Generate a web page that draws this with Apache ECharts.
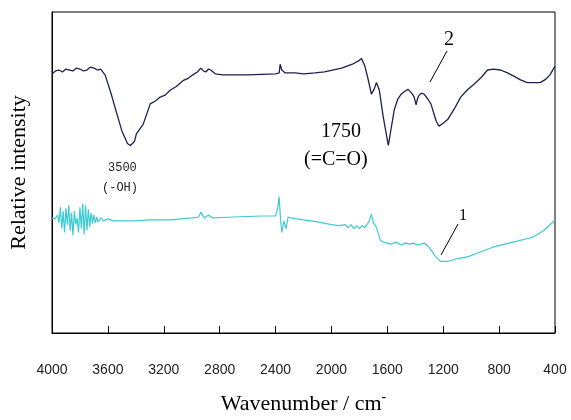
<!DOCTYPE html>
<html>
<head>
<meta charset="utf-8">
<script src="https://cdn.jsdelivr.net/npm/echarts@6/dist/echarts.min.js"></script>
<style>
  html, body { margin: 0; padding: 0; background: #fff; }
  #chart { width: 571px; height: 420px; }
</style>
</head>
<body>
<div id="chart"></div>
<script>
// wavenumber ticks (cm-1)
var xTicks = [4000, 3600, 3200, 2800, 2400, 2000, 1600, 1200, 800, 400];

// curve 2 (dark) : [wavenumber, relative intensity]
var curve2 = [
  [4000, 268], [3975, 271], [3950, 272], [3925, 270], [3900, 273], [3875, 272], [3850, 271],
  [3825, 274], [3800, 273], [3775, 271], [3750, 272], [3725, 275], [3700, 274], [3675, 272],
  [3652, 273], [3620, 267], [3580, 249], [3540, 229], [3500, 209], [3460, 196], [3439, 194],
  [3410, 198], [3396, 206], [3347, 216], [3297, 237], [3260, 240], [3226, 244], [3190, 246],
  [3155, 251], [3110, 255], [3063, 261], [3030, 263], [2992, 267], [2960, 270], [2935, 274],
  [2915, 271], [2899, 270], [2880, 273], [2864, 272], [2830, 268], [2779, 267], [2600, 267],
  [2400, 268], [2374, 269], [2367, 278], [2355, 272], [2331, 269], [2260, 269], [2200, 268],
  [2118, 269], [2050, 270], [1927, 274], [1850, 278], [1800, 282], [1785, 284], [1763, 277],
  [1740, 264], [1714, 247], [1695, 252], [1678, 259], [1657, 251], [1630, 224], [1593, 194],
  [1570, 214], [1550, 231], [1525, 242], [1501, 247], [1475, 250], [1451, 252], [1420, 247],
  [1408, 244], [1394, 236], [1385, 242], [1373, 246], [1355, 248], [1337, 247], [1310, 242],
  [1288, 237], [1250, 219], [1231, 214], [1200, 217], [1167, 221], [1120, 232], [1075, 244],
  [1030, 251], [982, 257], [930, 264], [883, 272], [840, 273], [790, 272], [740, 269],
  [698, 266], [650, 262], [599, 259], [550, 259], [507, 259], [470, 262], [436, 267], [400, 276]
];

// curve 1 (cyan) : [wavenumber, relative intensity]
var curve1 = [
  [4000, 119], [3980, 118], [3960, 122], [3950, 114], [3940, 130], [3930, 108], [3920, 126],
  [3910, 104], [3900, 129], [3890, 112], [3880, 132], [3870, 106], [3860, 124], [3850, 101],
  [3840, 126], [3830, 112], [3820, 119], [3810, 104], [3800, 130], [3790, 108], [3780, 134],
  [3770, 102], [3760, 132], [3750, 106], [3740, 128], [3730, 110], [3720, 124], [3710, 113],
  [3700, 122], [3690, 114], [3680, 120], [3670, 115], [3650, 119], [3630, 116], [3600, 118],
  [3560, 116], [3500, 116], [3400, 116], [3300, 117], [3150, 117], [3000, 119], [2950, 120],
  [2935, 125], [2910, 119], [2880, 122], [2850, 119], [2700, 120], [2500, 121], [2400, 121],
  [2385, 129], [2374, 141], [2365, 119], [2355, 104], [2340, 116], [2325, 108], [2310, 120],
  [2290, 119], [2200, 117], [2100, 115], [2000, 112], [1950, 111], [1900, 112], [1880, 109],
  [1860, 112], [1840, 108], [1820, 111], [1800, 108], [1780, 111], [1760, 109], [1745, 112],
  [1730, 116], [1714, 123], [1700, 114], [1680, 110], [1650, 96], [1630, 94], [1600, 93],
  [1570, 92], [1540, 94], [1500, 91], [1470, 93], [1440, 92], [1410, 93], [1390, 91],
  [1360, 92], [1337, 93], [1310, 90], [1288, 86], [1260, 80], [1240, 77], [1220, 74],
  [1190, 74], [1167, 74], [1100, 77], [1020, 79], [930, 84], [840, 89], [700, 94],
  [560, 99], [480, 106], [420, 114], [400, 117]
];

var chart = echarts.init(document.getElementById('chart'));

var option = {
  animation: false,
  backgroundColor: '#fff',
  grid: {
    left: 48, right: 16, top: 12, bottom: 76,
    show: true, borderColor: '#000', borderWidth: 1
  },
  xAxis: {
    type: 'value',
    inverse: true,
    min: 400, max: 4000, interval: 400,
    name: 'Wavenumber / cm{sup|-}',
    nameLocation: 'middle',
    nameGap: 57,
    nameTextStyle: {
      fontFamily: 'Liberation Serif', fontSize: 22, color: '#000',
      rich: { sup: { fontFamily: 'Liberation Serif', fontSize: 14, color: '#000', verticalAlign: 'top', padding: [0, 0, 14, 0] } }
    },
    axisLine: { show: true, onZero: false, lineStyle: { color: '#000', width: 1 } },
    axisTick: { show: true, inside: true, length: 7, lineStyle: { color: '#000' } },
    axisLabel: {
      margin: 30, fontFamily: 'Liberation Sans', fontSize: 14, color: '#222',
      formatter: function (v) { return xTicks.indexOf(v) >= 0 ? String(v) : ''; }
    },
    splitLine: { show: false }
  },
  yAxis: {
    type: 'value',
    min: 0, max: 332,
    name: 'Relative intensity',
    nameLocation: 'middle',
    nameGap: 22,
    nameRotate: 90,
    nameTextStyle: { fontFamily: 'Liberation Serif', fontSize: 22, color: '#000' },
    axisLine: { show: true, lineStyle: { color: '#000', width: 1 } },
    axisTick: { show: false },
    axisLabel: { show: false },
    splitLine: { show: false }
  },
  series: [
    {
      name: '2', type: 'line', data: curve2, showSymbol: false,
      lineStyle: { color: '#1e2150', width: 1.3 }
    },
    {
      name: '1', type: 'line', data: curve1, showSymbol: false,
      lineStyle: { color: '#3ccbd2', width: 1.2 }
    }
  ],
  graphic: [
    { type: 'text', left: 108, top: 162, style: { text: '3500', font: '12px "Liberation Mono"', fill: '#222' } },
    { type: 'text', left: 102, top: 182, style: { text: '(-OH)', font: '12px "Liberation Mono"', fill: '#222' } },
    { type: 'text', left: 321, top: 122, style: { text: '1750', font: '20px "Liberation Serif"', fill: '#000' } },
    { type: 'text', left: 304, top: 150, style: { text: '(=C=O)', font: '20px "Liberation Serif"', fill: '#000' } },
    { type: 'text', left: 444, top: 30, style: { text: '2', font: '20px "Liberation Serif"', fill: '#000' } },
    { type: 'line', shape: { x1: 430, y1: 82, x2: 447, y2: 51 }, style: { stroke: '#000', lineWidth: 1 } },
    { type: 'text', left: 459, top: 208, style: { text: '1', font: '16px "Liberation Serif"', fill: '#000' } },
    { type: 'line', shape: { x1: 441, y1: 255, x2: 458, y2: 224 }, style: { stroke: '#000', lineWidth: 1 } }
  ]
};

chart.setOption(option);
</script>
</body>
</html>
